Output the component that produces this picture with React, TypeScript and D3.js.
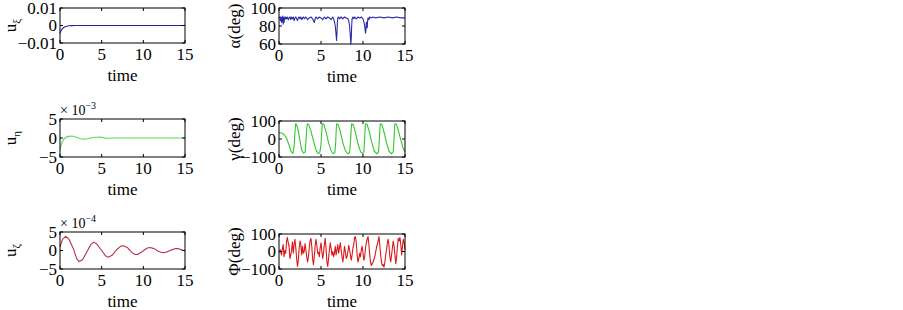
import React from "react";
import * as d3 from "d3";

type Pt = [number, number];

const timeTicks = [0, 5, 10, 15];

const uXi: Pt[] = [
  [0, -0.0045], [0.05, -0.0038], [0.1, -0.0032], [0.2, -0.0024], [0.3, -0.0018], [0.4, -0.0013],
  [0.5, -0.001], [0.7, -0.0006], [0.9, -0.0003], [1.1, -0.00015], [1.4, -0.00005], [1.8, 0], [15, 0],
];

const alpha: Pt[] = [
  [0, 89], [0.1, 90], [0.15, 86], [0.2, 90], [0.3, 84], [0.35, 90], [0.4, 85], [0.45, 91], [0.5, 82],
  [0.55, 89], [0.6, 84], [0.65, 90], [0.7, 87], [0.8, 90], [0.9, 88], [1.0, 90], [1.1, 87], [1.2, 89],
  [1.3, 90], [1.4, 87], [1.5, 90], [1.6, 88], [1.7, 90], [1.8, 86], [1.9, 89], [2.0, 90], [2.1, 88],
  [2.2, 86], [2.3, 89], [2.4, 90], [2.5, 88], [2.6, 90], [2.7, 87], [2.8, 89], [2.9, 90], [3.0, 88],
  [3.2, 90], [3.4, 87], [3.6, 89], [3.8, 90], [4.0, 88], [4.1, 86], [4.2, 84], [4.3, 88], [4.4, 90],
  [4.6, 88], [4.8, 90], [5.0, 89], [5.2, 87], [5.4, 90], [5.6, 88], [5.8, 90], [6.0, 89], [6.2, 87],
  [6.4, 90], [6.5, 88], [6.6, 85], [6.7, 80], [6.8, 70], [6.85, 64], [6.9, 72], [6.95, 84], [7.0, 89],
  [7.1, 90], [7.2, 88], [7.4, 90], [7.6, 88], [7.8, 90], [8.0, 89], [8.2, 88], [8.3, 86], [8.4, 80],
  [8.5, 68], [8.55, 60], [8.6, 66], [8.65, 80], [8.7, 88], [8.8, 90], [8.9, 88], [9.0, 90], [9.2, 88],
  [9.4, 90], [9.6, 89], [9.8, 90], [10.0, 88], [10.1, 85], [10.2, 80], [10.3, 72], [10.35, 76],
  [10.4, 84], [10.45, 80], [10.5, 78], [10.55, 86], [10.6, 89], [10.7, 87], [10.8, 90], [11.0, 89],
  [11.2, 90], [11.5, 89], [12, 90], [12.5, 89], [13, 90], [13.5, 89], [14, 90], [14.5, 89], [15, 89],
];

const uEta: Pt[] = [
  [0, -3], [0.15, -1.8], [0.3, -0.9], [0.5, -0.2], [0.8, 0.3], [1.2, 0.5], [1.6, 0.45], [2, 0.2],
  [2.5, -0.2], [2.9, -0.3], [3.3, -0.2], [3.8, 0.05], [4.3, 0.2], [4.8, 0.25], [5.2, 0.1], [5.6, -0.05],
  [6.5, 0], [15, 0],
];

const gamma: Pt[] = [
  [0, 35], [0.3, 33], [0.6, 25], [0.9, 5], [1.2, -35], [1.45, -70], [1.65, -80], [1.8, -40], [1.9, 40],
  [1.98, 85], [2.1, 78], [2.3, 45], [2.5, -10], [2.7, -60], [2.9, -78], [3.1, -75], [3.2, -20], [3.3, 60],
  [3.37, 85], [3.55, 80], [3.8, 45], [4.1, -10], [4.4, -60], [4.65, -80], [4.85, -78], [5.0, -30],
  [5.1, 50], [5.16, 85], [5.35, 80], [5.6, 40], [5.9, -20], [6.2, -65], [6.45, -82], [6.65, -75],
  [6.75, -20], [6.82, 60], [6.87, 85], [7.05, 80], [7.3, 40], [7.6, -20], [7.9, -65], [8.2, -82],
  [8.4, -75], [8.52, -10], [8.6, 60], [8.65, 85], [8.85, 78], [9.1, 35], [9.4, -25], [9.7, -70],
  [9.95, -82], [10.1, -70], [10.2, 0], [10.26, 65], [10.3, 85], [10.5, 80], [10.75, 40], [11.05, -20],
  [11.35, -68], [11.65, -82], [11.85, -72], [11.95, 0], [12.02, 65], [12.06, 85], [12.25, 80],
  [12.5, 40], [12.8, -20], [13.1, -68], [13.4, -82], [13.6, -70], [13.7, 0], [13.76, 65], [13.8, 85],
  [14.0, 80], [14.25, 40], [14.55, -15], [14.8, -55], [15, -70],
];

const uZeta: Pt[] = [
  [0, 1], [0.3, 3], [0.7, 3.8], [1.1, 3], [1.6, 0.5], [2.0, -2.2], [2.3, -3], [2.7, -2.5], [3.2, -0.5],
  [3.7, 1.6], [4.0, 2.2], [4.4, 1.8], [5, 0], [5.5, -1.5], [5.8, -1.8], [6.3, -1.2], [6.8, 0.2],
  [7.3, 1.2], [7.6, 1.3], [8.1, 0.8], [8.6, -0.5], [9, -1.1], [9.3, -1.1], [9.8, -0.4], [10.4, 0.6],
  [10.8, 0.8], [11.3, 0.5], [11.8, -0.2], [12.3, -0.6], [12.7, -0.5], [13.3, 0.1], [13.8, 0.5],
  [14.2, 0.5], [14.7, 0.1], [15, -0.1],
];

const phi: Pt[] = [
  [0, -5], [0.15, 10], [0.3, -20], [0.4, 15], [0.5, 40], [0.6, -30], [0.7, 5], [0.8, -10], [0.9, 60],
  [1.0, 80], [1.1, 50], [1.2, 30], [1.3, -40], [1.4, -20], [1.5, 10], [1.6, 55], [1.7, -10], [1.8, 40],
  [1.9, 70], [2.0, 20], [2.1, -40], [2.2, -85], [2.3, -50], [2.4, 20], [2.5, 60], [2.6, 40], [2.7, -20],
  [2.8, 30], [2.9, -10], [3.0, 0], [3.1, 45], [3.2, 10], [3.3, -30], [3.4, -60], [3.5, -30], [3.6, 20],
  [3.7, 60], [3.8, 75], [3.9, 30], [4.0, -40], [4.1, -75], [4.2, -30], [4.3, 30], [4.4, 70], [4.5, 40],
  [4.6, -10], [4.7, -5], [4.8, -30], [4.9, 20], [5.0, 50], [5.1, 0], [5.2, -40], [5.3, -10], [5.4, 40],
  [5.5, 75], [5.6, 20], [5.7, -60], [5.8, -85], [5.9, -40], [6.0, 10], [6.1, 50], [6.2, 20], [6.3, -20],
  [6.4, 0], [6.5, -30], [6.6, -10], [6.7, 30], [6.8, -20], [6.9, 10], [7.0, 40], [7.1, -10], [7.2, 20],
  [7.3, 50], [7.4, 10], [7.5, -30], [7.6, -60], [7.7, -20], [7.8, 30], [7.9, 0], [8.0, -40], [8.1, -30],
  [8.2, 0], [8.3, 35], [8.4, 10], [8.5, -20], [8.6, -50], [8.7, -20], [8.8, 20], [8.9, 40], [9.0, 80],
  [9.1, 85], [9.2, 50], [9.3, -20], [9.4, -60], [9.5, -40], [9.6, -10], [9.7, -30], [9.8, 10], [9.9, 30],
  [10.0, -10], [10.1, -50], [10.2, -30], [10.3, 20], [10.4, 50], [10.5, 70], [10.6, 85], [10.7, 40],
  [10.8, -20], [10.9, -60], [11.0, -80], [11.2, -60], [11.4, -30], [11.6, 20], [11.8, 60], [11.9, 85],
  [12.0, 40], [12.1, -20], [12.2, -60], [12.3, -80], [12.4, -75], [12.5, -90], [12.6, -60], [12.7, -20],
  [12.8, 10], [12.9, 50], [13.0, 70], [13.1, 30], [13.2, -30], [13.3, -60], [13.4, -20], [13.5, 20],
  [13.6, 60], [13.7, 30], [13.8, -20], [13.9, -70], [14.0, -30], [14.1, 30], [14.2, 75], [14.3, 60],
  [14.4, 80], [14.5, 40], [14.6, -20], [14.7, 30], [14.8, 70], [14.9, 50], [15, 10],
];

const FONT = "Liberation Serif";

interface PanelProps {
  left: number;
  right: number;
  top: number;
  bottom: number;
  yDomain: [number, number];
  yTicks: number[];
  yTickLabels: string[];
  data: Pt[];
  color: string;
  ylabel: React.ReactNode;
  ylabelX: number;
  exponent?: string;
}

function Panel(p: PanelProps) {
  const x = d3.scaleLinear().domain([0, 15]).range([p.left, p.right]);
  const y = d3.scaleLinear().domain(p.yDomain).range([p.bottom, p.top]);
  const line = d3
    .line<Pt>()
    .x((d) => x(d[0]))
    .y((d) => y(d[1]));
  const tl = 3;
  const midY = (p.top + p.bottom) / 2;
  return (
    <g>
      <path d={line(p.data) || ""} fill="none" stroke={p.color} strokeWidth={1.1} strokeLinejoin="round" />
      <rect x={p.left} y={p.top} width={p.right - p.left} height={p.bottom - p.top} fill="none" stroke="#000" strokeWidth={1} />
      {timeTicks.map((t) => (
        <g key={"x" + t}>
          <line x1={x(t)} x2={x(t)} y1={p.bottom} y2={p.bottom - tl} stroke="#000" />
          <line x1={x(t)} x2={x(t)} y1={p.top} y2={p.top + tl} stroke="#000" />
          <text x={x(t)} y={p.bottom + 17} textAnchor="middle" fontSize={17} fontFamily={FONT}>
            {t}
          </text>
        </g>
      ))}
      {p.yTicks.map((v, i) => (
        <g key={"y" + v}>
          <line x1={p.left} x2={p.left + tl} y1={y(v)} y2={y(v)} stroke="#000" />
          <line x1={p.right} x2={p.right - tl} y1={y(v)} y2={y(v)} stroke="#000" />
          <text x={p.left - 3} y={y(v) + 5.5} textAnchor="end" fontSize={17} fontFamily={FONT}>
            {p.yTickLabels[i]}
          </text>
        </g>
      ))}
      <text x={(p.left + p.right) / 2} y={p.bottom + 38} textAnchor="middle" fontSize={17} fontFamily={FONT}>
        time
      </text>
      <text
        transform={`translate(${p.ylabelX},${midY}) rotate(-90)`}
        textAnchor="middle"
        fontSize={17}
        fontFamily={FONT}
      >
        {p.ylabel}
      </text>
      {p.exponent && (
        <text x={p.left} y={p.top - 4} fontSize={14} fontFamily={FONT}>
          {"× 10"}
          <tspan dy={-6} fontSize={10}>
            {p.exponent}
          </tspan>
        </text>
      )}
    </g>
  );
}

export default function App() {
  const L = { left: 60, right: 185 };
  const R = { left: 279, right: 405 };
  return (
    <svg width={903} height={310} style={{ position: "absolute", left: 0, top: 0, background: "#fff" }}>
      <rect width={903} height={310} fill="#fff" />
      <Panel
        {...L}
        top={8}
        bottom={43}
        yDomain={[-0.01, 0.01]}
        yTicks={[-0.01, 0, 0.01]}
        yTickLabels={["−0.01", "0", "0.01"]}
        data={uXi}
        color="#22229a"
        ylabel={<>u<tspan dy={4} fontSize={11}>ξ</tspan></>}
        ylabelX={16}
      />
      <Panel
        {...R}
        top={8}
        bottom={44}
        yDomain={[60, 100]}
        yTicks={[60, 80, 100]}
        yTickLabels={["60", "80", "100"]}
        data={alpha}
        color="#2a2aa8"
        ylabel={<>α(deg)</>}
        ylabelX={240}
      />
      <Panel
        {...L}
        top={119}
        bottom={157}
        yDomain={[-5, 5]}
        yTicks={[-5, 0, 5]}
        yTickLabels={["−5", "0", "5"]}
        data={uEta}
        color="#5ad65a"
        ylabel={<>u<tspan dy={4} fontSize={11}>η</tspan></>}
        ylabelX={16}
        exponent="−3"
      />
      <Panel
        {...R}
        top={121}
        bottom={157}
        yDomain={[-100, 100]}
        yTicks={[-100, 0, 100]}
        yTickLabels={["−100", "0", "100"]}
        data={gamma}
        color="#2ec82e"
        ylabel={<>γ(deg)</>}
        ylabelX={240}
      />
      <Panel
        {...L}
        top={232}
        bottom={269}
        yDomain={[-5, 5]}
        yTicks={[-5, 0, 5]}
        yTickLabels={["−5", "0", "5"]}
        data={uZeta}
        color="#b8304a"
        ylabel={<>u<tspan dy={4} fontSize={11}>ζ</tspan></>}
        ylabelX={16}
        exponent="−4"
      />
      <Panel
        {...R}
        top={234}
        bottom={269}
        yDomain={[-100, 100]}
        yTicks={[-100, 0, 100]}
        yTickLabels={["−100", "0", "100"]}
        data={phi}
        color="#d81818"
        ylabel={<>Φ(deg)</>}
        ylabelX={240}
      />
    </svg>
  );
}
